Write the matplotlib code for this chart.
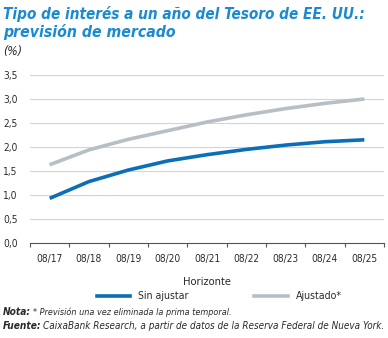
import numpy as np
import matplotlib
matplotlib.use("Agg")
import matplotlib.pyplot as plt
from matplotlib.lines import Line2D

plt.rcParams['font.family'] = ['DejaVu Sans']
plt.rcParams['font.stretch'] = 'condensed'

categories = ["08/17", "08/18", "08/19", "08/20", "08/21", "08/22", "08/23", "08/24", "08/25"]
sin_ajustar = [0.93, 1.28, 1.52, 1.71, 1.84, 1.95, 2.04, 2.11, 2.15]
ajustado = [1.63, 1.94, 2.16, 2.34, 2.52, 2.67, 2.80, 2.91, 3.00]
yticks = [0.0, 0.5, 1.0, 1.5, 2.0, 2.5, 3.0, 3.5]

blue = "#0b6fb8"
gray = "#b7bfc4"
title_blue = "#1b8ad0"
txt = "#2a2a2a"

W, H = 388, 338
fig = plt.figure(figsize=(W / 100, H / 100), dpi=100)
ax = fig.add_axes([30 / W, (H - 243) / H, 354 / W, 168 / H])

x = np.arange(len(categories))
ax.plot(x, ajustado, color=gray, lw=2.6, solid_capstyle="butt")
ax.plot(x, sin_ajustar, color=blue, lw=2.6, solid_capstyle="butt")

ax.set_xlim(-0.5, len(categories) - 0.5)
ax.set_ylim(0, 3.5)
ax.set_yticks(yticks)
ax.set_yticklabels([f"{v:.1f}".replace(".", ",") for v in yticks], fontsize=7.3, color=txt)
for v in yticks[1:]:
    ax.axhline(v, color="#d4d4d4", lw=0.8, zorder=0)

ax.set_xticks(x)
ax.set_xticklabels(categories, fontsize=7.3, color=txt)
ax.tick_params(axis="x", length=0, pad=8)
ax.tick_params(axis="y", length=0, pad=9)
ax.set_xticks(np.arange(len(categories) + 1) - 0.5, minor=True)
ax.tick_params(axis="x", which="minor", length=3, width=0.8, color="#555555", direction="out")

for s in ["top", "right", "left"]:
    ax.spines[s].set_visible(False)
ax.spines["bottom"].set_color("#555555")
ax.spines["bottom"].set_linewidth(0.8)


def put(xp, yp, s, width=None, size=8, **kw):
    t = fig.text(xp / W, 1 - yp / H, s, fontsize=size, va="center", ha="left", **kw)
    if width is not None:
        r = fig.canvas.get_renderer()
        w = t.get_window_extent(r).width
        t.set_fontsize(size * width / w)
    return t


put(3, 14, "Tipo de interés a un año del Tesoro de EE. UU.:", width=362, size=12,
    fontweight="bold", style="italic", color=title_blue)
put(3, 32, "previsión de mercado", width=172, size=12,
    fontweight="bold", style="italic", color=title_blue)
put(3, 52, "(%)", width=19, size=8, style="italic", color=txt)

fig.text(207 / W, 1 - 282 / H, "Horizonte", fontsize=8, color=txt, ha="center", va="center")

fig.add_artist(Line2D([97 / W, 130 / W], [1 - 296 / H] * 2, color=blue, lw=2.6))
put(138, 296, "Sin ajustar", size=7.6, color=txt)
fig.add_artist(Line2D([254 / W, 288 / W], [1 - 296 / H] * 2, color=gray, lw=2.6))
put(296, 296, "Ajustado*", size=7.6, color=txt)

put(3, 312, "Nota:", width=28, size=7, style="italic", fontweight="bold", color=txt)
put(33, 312, "* Previsión una vez eliminada la prima temporal.", width=200, size=7,
    style="italic", color=txt)
put(3, 326, "Fuente:", width=39, size=7, style="italic", fontweight="bold", color=txt)
put(43, 326, "CaixaBank Research, a partir de datos de la Reserva Federal de Nueva York.",
    width=342, size=7, style="italic", color=txt)

fig.savefig("out.png", dpi=100)
